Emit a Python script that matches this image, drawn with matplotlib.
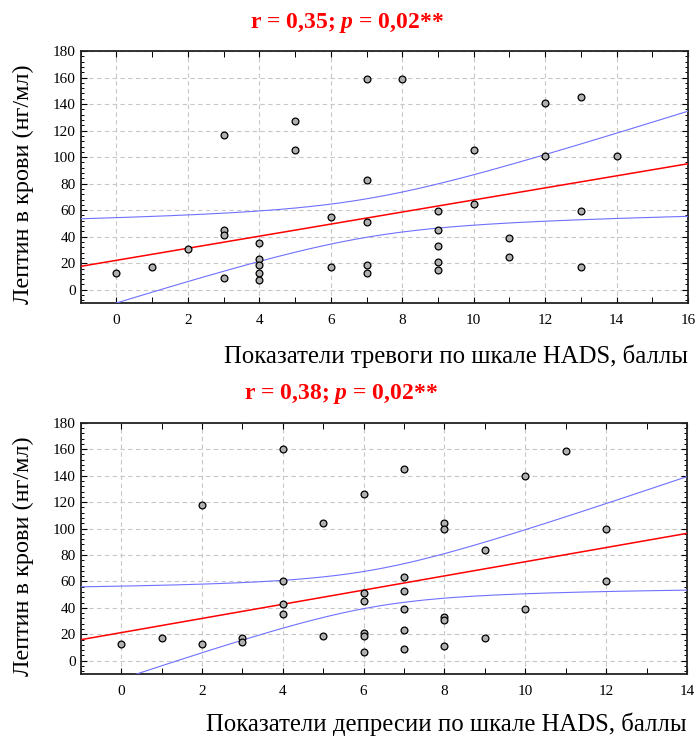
import matplotlib
matplotlib.use("Agg")
import matplotlib.pyplot as plt
import numpy as np
from matplotlib.ticker import MultipleLocator

plt.rcParams["font.family"] = ["Liberation Serif", "DejaVu Serif"]
plt.rcParams["mathtext.fontset"] = "custom"
plt.rcParams["mathtext.it"] = "Liberation Serif:italic:bold"
plt.rcParams["mathtext.rm"] = "Liberation Serif:bold"

# Anxiety (HADS) vs leptin
anx_x = [0, 1, 2, 3, 3, 3, 3, 4, 4, 4, 4, 4, 5, 5, 6, 6, 7, 7, 7, 7, 7,
         8, 9, 9, 9, 9, 9, 10, 10, 11, 11, 12, 12, 13, 13, 13, 14]
anx_y = [13, 17, 31, 117, 45, 41, 9, 35, 23, 19, 13, 7, 127, 105, 55, 17, 159, 83, 51, 19, 13,
         159, 59, 45, 33, 21, 15, 105, 65, 39, 25, 141, 101, 145, 59, 17, 101]
# fitted line and 95% band: intercept, slope, x mean, min half-width, band slope
anx_fit = [22.2, 4.55, 7.0, 14.5, 4.1]

# Depression (HADS) vs leptin
dep_x = [0, 1, 2, 2, 3, 3, 4, 4, 4, 4, 5, 5, 6, 6, 6, 6, 6, 6,
         7, 7, 7, 7, 7, 7, 8, 8, 8, 8, 8, 9, 9, 10, 10, 11, 12, 12]
dep_y = [13, 17, 118, 13, 17, 14, 160, 60, 43, 35, 104, 19, 126, 51, 45, 21, 19, 7,
         145, 63, 53, 39, 23, 9, 104, 100, 33, 31, 11, 84, 17, 140, 39, 159, 100, 60]
dep_fit = [21.3, 5.36, 6.2, 14.0, 5.2]

panels = [
    (anx_x, anx_y, anx_fit, (-1, 16), "r = 0,35; $p$ = 0,02**",
     "Показатели тревоги по шкале HADS, баллы"),
    (dep_x, dep_y, dep_fit, (-1, 14), "r = 0,38; $p$ = 0,02**",
     "Показатели депресии по шкале HADS, баллы"),
]

fig = plt.figure(figsize=(6.96, 7.38), dpi=100)
rects = [[0.116, 0.5894, 0.8726, 0.3415], [0.116, 0.0867, 0.871, 0.3405]]
title_pos = [(0.499, 0.969), (0.490, 0.466)]
xlabel_pos = [(0.988, 0.517), (0.987, 0.019)]

for (xs, ys, fp, xlim, title, xlabel), rect, tp, xp in zip(panels, rects, title_pos, xlabel_pos):
    ax = fig.add_axes(rect)
    a, b, xm, h0, k = fp
    xx = np.linspace(xlim[0], xlim[1], 200)
    fit = a + b * xx
    half = np.sqrt(h0 ** 2 + (k * (xx - xm)) ** 2)

    ax.plot(xx, fit, color="#ff0000", lw=1.1, zorder=3)
    ax.plot(xx, fit + half, color="#7070ff", lw=0.8, zorder=3)
    ax.plot(xx, fit - half, color="#7070ff", lw=0.8, zorder=3)
    ax.scatter(xs, ys, s=24, facecolor="#b0b0b0", edgecolor="black", linewidth=0.9, zorder=4)

    ax.set_xlim(*xlim)
    ax.set_ylim(-10, 180)
    ax.xaxis.set_major_locator(MultipleLocator(2))
    ax.xaxis.set_minor_locator(MultipleLocator(1))
    ax.yaxis.set_major_locator(MultipleLocator(20))
    ax.yaxis.set_minor_locator(MultipleLocator(4))
    ax.grid(True, which="major", color="#c8c8c8", linestyle=(0, (4, 3)), lw=0.8)
    ax.set_axisbelow(True)
    ax.tick_params(which="both", direction="in", top=True, right=True, labelsize=11)
    ax.tick_params(which="major", length=4, width=0.8)
    ax.tick_params(which="minor", length=2.5, width=0.7)
    ax.tick_params(axis="x", which="major", length=4, pad=8)
    ax.tick_params(axis="x", which="minor", length=4)
    for sp in ax.spines.values():
        sp.set_linewidth(1.3)
        sp.set_color("#222222")

    ax.set_ylabel("Лептин в крови (нг/мл)", fontsize=17.5)
    ax.yaxis.set_label_coords(-0.077, 0.47)
    fig.text(xp[0], xp[1], xlabel, ha="right", va="center", fontsize=17.8)
    fig.text(tp[0], tp[1], title, ha="center", va="center", fontsize=17,
             color="#ff0000", fontweight="bold")

fig.savefig("out.png", dpi=100)
